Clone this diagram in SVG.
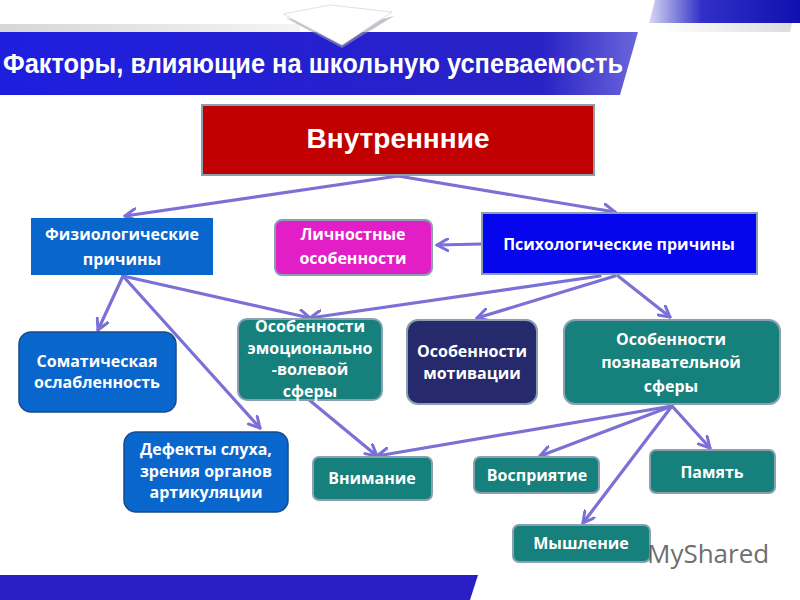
<svg xmlns="http://www.w3.org/2000/svg" width="800" height="600" viewBox="0 0 800 600">
<defs>
<linearGradient id="gBan" x1="0" y1="0" x2="1" y2="0">
<stop offset="0" stop-color="#1e1ee0"/><stop offset="0.85" stop-color="#2a22c4"/><stop offset="1" stop-color="#6a66dc"/>
</linearGradient>
<linearGradient id="gTR" x1="0" y1="0" x2="1" y2="0">
<stop offset="0" stop-color="#d8d8f4"/><stop offset="0.35" stop-color="#3030c8"/><stop offset="1" stop-color="#1010b0"/>
</linearGradient>
<linearGradient id="gGray" x1="0" y1="0" x2="1" y2="0">
<stop offset="0" stop-color="#ffffff"/><stop offset="1" stop-color="#dcdcdc"/>
</linearGradient>
<linearGradient id="gGrayL" x1="0" y1="0" x2="1" y2="0">
<stop offset="0" stop-color="#d6d6d6"/><stop offset="1" stop-color="#f4f4f4"/>
</linearGradient>
<marker id="arr" viewBox="0 0 14 14" refX="12" refY="7" markerWidth="14" markerHeight="14" markerUnits="userSpaceOnUse" orient="auto">
<path d="M1,1 L12,7 L1,13" fill="none" stroke="#7a70d6" stroke-width="3" stroke-linecap="round" stroke-linejoin="round"/>
</marker>
</defs>
<style>
.t{font-family:"Open Sans","Noto Sans","DejaVu Sans",sans-serif;font-weight:bold;fill:#ffffff;text-anchor:middle;font-size:16px}
.bx{stroke:#8aa0b0;stroke-width:2}
.c line{stroke:#7a70d6;stroke-width:3.2;stroke-linecap:round;marker-end:url(#arr)}
.teal{fill:#16807c}
.blu{fill:#0866cc}
</style>
<rect width="800" height="600" fill="#ffffff"/>
<!-- background decorations -->
<polygon points="0,24 300,24 300,32 0,32" fill="url(#gGrayL)"/>
<polygon points="660,23 792,23 790,32 660,32" fill="url(#gGray)"/>
<polygon points="655,0 800,0 800,23 649,23" fill="url(#gTR)"/>
<polygon points="0,32 638,32 620,95 0,95" fill="url(#gBan)"/>
<polygon points="0,575 478,575 470,600 0,600" fill="#2a1fc4"/>
<polygon points="286,18 342,48 394,16 342,30" fill="#9a9aa8" opacity="0.6"/>
<polygon points="283,14 330,5 392,12 342,45" fill="#ffffff" stroke="#e0e0e8" stroke-width="1"/>
<text x="3" y="73" font-family="Liberation Sans, Arial, sans-serif" font-weight="bold" font-size="27" fill="#ffffff" textLength="620" lengthAdjust="spacingAndGlyphs">Факторы, влияющие на школьную успеваемость</text>

<g class="c" id="connectors">
<line x1="398" y1="176" x2="125" y2="216"/>
<line x1="398" y1="176" x2="615" y2="212"/>
<line x1="482" y1="244" x2="437" y2="245"/>
<line x1="123" y1="276" x2="98" y2="330"/>
<line x1="123" y1="276" x2="260" y2="428"/>
<line x1="123" y1="276" x2="310" y2="318"/>
<line x1="600" y1="276" x2="310" y2="318"/>
<line x1="615" y1="276" x2="477" y2="318"/>
<line x1="618" y1="276" x2="670" y2="317"/>
<line x1="308" y1="399" x2="377" y2="456"/>
<line x1="672" y1="406" x2="377" y2="456"/>
<line x1="672" y1="406" x2="540" y2="456"/>
<line x1="672" y1="406" x2="710" y2="448"/>
<line x1="672" y1="406" x2="583" y2="523"/>
</g>

<g id="vnutr">
<rect x="202" y="105" width="392" height="70" fill="#c00000" class="bx"/>
<text x="398" y="148" font-family="Liberation Sans, Arial, sans-serif" font-weight="bold" font-size="28" fill="#ffffff" text-anchor="middle">Внутреннние</text>
</g>
<g id="fiz">
<rect x="31" y="218" width="182" height="57" class="blu"/>
<text class="t" x="122" y="240">Физиологические</text>
<text class="t" x="122" y="265">причины</text>
</g>
<g id="lich">
<rect x="275" y="220" width="157" height="55" rx="7" fill="#e21fc6" class="bx"/>
<text class="t" x="353" y="240">Личностные</text>
<text class="t" x="353" y="264">особенности</text>
</g>
<g id="psih">
<rect x="482" y="213" width="275" height="61" fill="#0505ee" class="bx"/>
<text class="t" x="619" y="250">Психологические причины</text>
</g>
<g id="somat">
<rect x="19" y="332" width="157" height="80" rx="12" class="blu" stroke="#1a4a8a" stroke-width="1.5"/>
<text class="t" x="97" y="367">Соматическая</text>
<text class="t" x="97" y="388">ослабленность</text>
</g>
<g id="emoc">
<rect x="238" y="319" width="144" height="81" rx="9" class="teal bx"/>
<text class="t" x="310" y="332">Особенности</text>
<text class="t" x="310" y="354">эмоционально</text>
<text class="t" x="310" y="375">-волевой</text>
<text class="t" x="310" y="397">сферы</text>
</g>
<g id="motiv">
<rect x="407" y="320" width="130" height="84" rx="11" fill="#262a6c" class="bx"/>
<text class="t" x="472" y="357">Особенности</text>
<text class="t" x="472" y="379">мотивации</text>
</g>
<g id="pozn">
<rect x="564" y="320" width="216" height="84" rx="11" class="teal bx"/>
<text class="t" x="671" y="345">Особенности</text>
<text class="t" x="671" y="368">познавательной</text>
<text class="t" x="671" y="392">сферы</text>
</g>
<g id="defekt">
<rect x="124" y="432" width="164" height="80" rx="12" class="blu" stroke="#1a4a8a" stroke-width="1.5"/>
<text class="t" x="206" y="455">Дефекты слуха,</text>
<text class="t" x="206" y="477">зрения органов</text>
<text class="t" x="206" y="498">артикуляции</text>
</g>
<g id="vnim">
<rect x="313" y="457" width="119" height="43" rx="6" class="teal bx"/>
<text class="t" x="372" y="484">Внимание</text>
</g>
<g id="vospr">
<rect x="474" y="457" width="125" height="36" rx="6" class="teal bx"/>
<text class="t" x="537" y="481">Восприятие</text>
</g>
<g id="pamyat">
<rect x="650" y="450" width="125" height="43" rx="6" class="teal bx"/>
<text class="t" x="712" y="478">Память</text>
</g>
<g id="mysh">
<rect x="513" y="525" width="137" height="37" rx="6" class="teal bx"/>
<text class="t" x="581" y="549">Мышление</text>
</g>
<text x="647" y="563" font-family="Open Sans, Noto Sans, sans-serif" font-size="26" fill="#555555" opacity="0.85">MyShared</text>
</svg>
